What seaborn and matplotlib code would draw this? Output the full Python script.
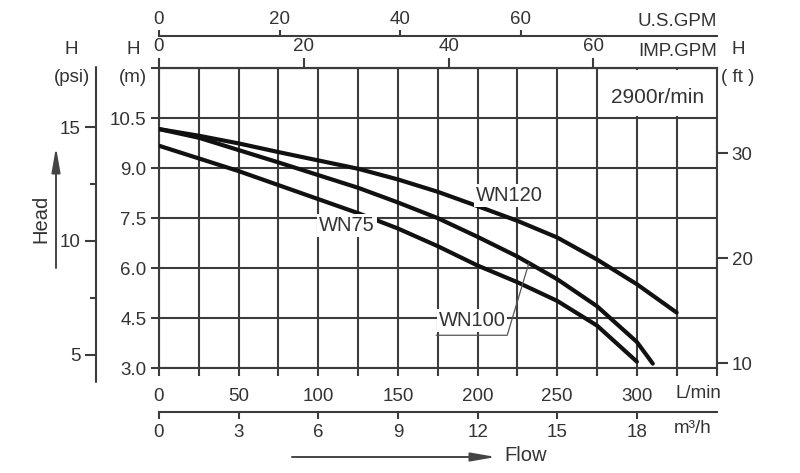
import numpy as np
import pandas as pd
import matplotlib
matplotlib.use("Agg")
import matplotlib.pyplot as plt
import seaborn as sns
from matplotlib.lines import Line2D
from matplotlib.patches import FancyArrowPatch, Rectangle

# ---------------- data ----------------
wn120_flow = [0, 25, 50, 75, 100, 125, 150, 175, 200, 225, 250, 275, 300, 325]
wn120_head = [10.17, 9.97, 9.74, 9.48, 9.23, 8.98, 8.66, 8.29, 7.86, 7.42, 6.92, 6.26, 5.52, 4.67]
wn100_flow = [0, 25, 50, 75, 100, 125, 150, 175, 200, 225, 250, 275, 300, 310]
wn100_head = [10.17, 9.91, 9.54, 9.17, 8.79, 8.41, 7.97, 7.50, 6.94, 6.35, 5.67, 4.86, 3.79, 3.14]
wn75_flow = [0, 25, 50, 75, 100, 125, 150, 175, 200, 225, 250, 275, 300]
wn75_head = [9.67, 9.29, 8.91, 8.49, 8.07, 7.65, 7.19, 6.66, 6.08, 5.58, 5.02, 4.28, 3.20]
models = ["WN120", "WN100", "WN75"]

lmin_ticks = list(range(0, 351, 25))
lmin_labels = ["0", "", "50", "", "100", "", "150", "", "200", "", "250", "", "300", "", ""]
head_ticks = [3.0, 4.5, 6.0, 7.5, 9.0, 10.5, 12.0]
head_labels = ["3.0", "4.5", "6.0", "7.5", "9.0", "10.5", ""]
imp_ticks = [0, 20, 40, 60]
us_ticks = [0, 20, 40, 60]
m3h_ticks = [0, 3, 6, 9, 12, 15, 18]
ft_ticks = [10, 20, 30]
psi_ticks = [5, 10, 15]
psi_minor = [7.5, 12.5]

df = pd.concat([
    pd.DataFrame({"flow": wn120_flow, "head": wn120_head, "model": "WN120"}),
    pd.DataFrame({"flow": wn100_flow, "head": wn100_head, "model": "WN100"}),
    pd.DataFrame({"flow": wn75_flow, "head": wn75_head, "model": "WN75"}),
], ignore_index=True)

# ---------------- style ----------------
sns.set_style("white")
plt.rcParams["font.family"] = ["Liberation Sans", "DejaVu Sans"]
TXT = "#333333"
LC = "#3c3c3c"
LW = 1.5
TS = 13.5

W, H = 800, 473
fig = plt.figure(figsize=(W / 100, H / 100), dpi=100)


def fx(x):
    return x / W


def fy(y):
    return 1 - y / H


ax = fig.add_axes([fx(159), fy(368.3), fx(716.5) - fx(159), fy(68) - fy(368.3)])
ax.set_xlim(0, 350)
ax.set_ylim(3, 12)
ax.set_axisbelow(True)
ax.grid(True, color=LC, linewidth=LW)
for s in ax.spines.values():
    s.set_color(LC)
    s.set_linewidth(LW)

sns.lineplot(data=df, x="flow", y="head", hue="model", hue_order=models,
             palette=["#111111"] * 3, estimator=None, sort=False,
             linewidth=3.0, legend=False, ax=ax, zorder=3)
ax.set_xlabel("")
ax.set_ylabel("")

ax.set_xticks(lmin_ticks)
ax.set_xticklabels(lmin_labels)
ax.set_yticks(head_ticks)
ax.set_yticklabels(head_labels)
ax.tick_params(axis="x", bottom=True, top=False, direction="out", length=6,
               width=LW, color=LC, pad=8, labelsize=TS, labelcolor=TXT)
ax.tick_params(axis="y", left=True, right=False, direction="out", length=6,
               width=LW, color=LC, pad=3, labelsize=TS, labelcolor=TXT)

# white box behind the speed label
ax.add_patch(Rectangle((276.2, 10.55), 73.3, 1.40, facecolor="white",
                       edgecolor="none", zorder=1))
ax.text(313, 11.13, "2900r/min", ha="center", va="center", fontsize=15,
        color=TXT, zorder=4)

# curve labels
bb = dict(facecolor="white", edgecolor="none", pad=1.5)
ax.text(220, 8.19, "WN120", ha="center", va="center", fontsize=14.5,
        color=TXT, bbox=bb, zorder=5)
ax.text(118, 7.29, "WN75", ha="center", va="center", fontsize=14.5,
        color=TXT, bbox=bb, zorder=5)
ax.text(196.5, 4.44, "WN100", ha="center", va="center", fontsize=14.5,
        color=TXT, bbox=bb, zorder=5)
ax.plot([174, 218.6, 232.2], [3.99, 3.99, 6.15], color="#555555", lw=0.9,
        zorder=4)

# ---------------- secondary scales ----------------
imp = ax.secondary_xaxis("top", functions=(lambda q: q / 4.5461, lambda g: g * 4.5461))
imp.set_xticks(imp_ticks)
imp.tick_params(direction="out", length=7, width=LW, color=LC, pad=2,
                labelsize=TS, labelcolor=TXT)
imp.spines["top"].set_color(LC)
imp.spines["top"].set_linewidth(LW)

us = ax.secondary_xaxis(1 + (68 - 36) / 300.3,
                        functions=(lambda q: q / 3.7854, lambda g: g * 3.7854))
us.set_xticks(us_ticks)
us.tick_params(direction="out", length=4, width=LW, color=LC, pad=2,
               labelsize=TS, labelcolor=TXT)
us.spines["top"].set_color(LC)
us.spines["top"].set_linewidth(LW)

m3 = ax.secondary_xaxis(-(411.7 - 368.3) / 300.3,
                        functions=(lambda q: q * 0.06, lambda v: v / 0.06))
m3.set_xticks(m3h_ticks)
m3.tick_params(direction="out", length=5, width=LW, color=LC, pad=4,
               labelsize=TS, labelcolor=TXT)
m3.spines["bottom"].set_color(LC)
m3.spines["bottom"].set_linewidth(LW)

ft = ax.secondary_yaxis("right", functions=(lambda m: m / 0.315, lambda f: f * 0.315))
ft.set_yticks(ft_ticks)
ft.tick_params(direction="out", length=8, width=LW, color=LC, pad=3,
               labelsize=TS, labelcolor=TXT)
ft.spines["right"].set_visible(False)

psi = ax.secondary_yaxis((96 - 159) / 557.5,
                         functions=(lambda m: m / 0.682, lambda p: p * 0.682))
psi.set_yticks(psi_ticks)
psi.set_yticks(psi_minor, minor=True)
psi.tick_params(which="major", direction="out", length=8, width=LW, color=LC,
                pad=3, labelsize=TS, labelcolor=TXT)
psi.tick_params(which="minor", direction="out", length=4, width=LW, color=LC)
psi.spines["left"].set_visible(False)
fig.add_artist(Line2D([fx(96), fx(96)], [fy(67), fy(382)], color=LC, lw=LW,
                      transform=fig.transFigure))

# ---------------- unit labels ----------------
def ftext(x, y, s, ha="center", size=13.5, **kw):
    fig.text(fx(x), fy(y), s, ha=ha, va="center", fontsize=size, color=TXT, **kw)


ftext(717, 22, "U.S.GPM", ha="right")
ftext(717, 51, "IMP.GPM", ha="right")
ftext(738, 50, "H")
ftext(738, 77, "( ft )")
ftext(71, 50, "H")
ftext(72, 77, "(psi)")
ftext(133, 50, "H")
ftext(133, 77, "(m)")
ftext(698, 393, "L/min")
ftext(693, 428, "m³/h")
ftext(41, 219, "Head", size=14.5, rotation=90)
ftext(526, 455, "Flow", size=14.5)

# arrows
fig.add_artist(FancyArrowPatch((fx(56), fy(268)), (fx(56), fy(147)),
                               transform=fig.transFigure,
                               arrowstyle="-|>,head_length=15,head_width=2.6",
                               color="#444444", lw=1.4, shrinkA=0, shrinkB=0))
fig.add_artist(FancyArrowPatch((fx(292), fy(457)), (fx(496), fy(457)),
                               transform=fig.transFigure,
                               arrowstyle="-|>,head_length=15,head_width=2.6",
                               color="#444444", lw=1.4, shrinkA=0, shrinkB=0))

fig.savefig("out.png", dpi=100, facecolor="white")
